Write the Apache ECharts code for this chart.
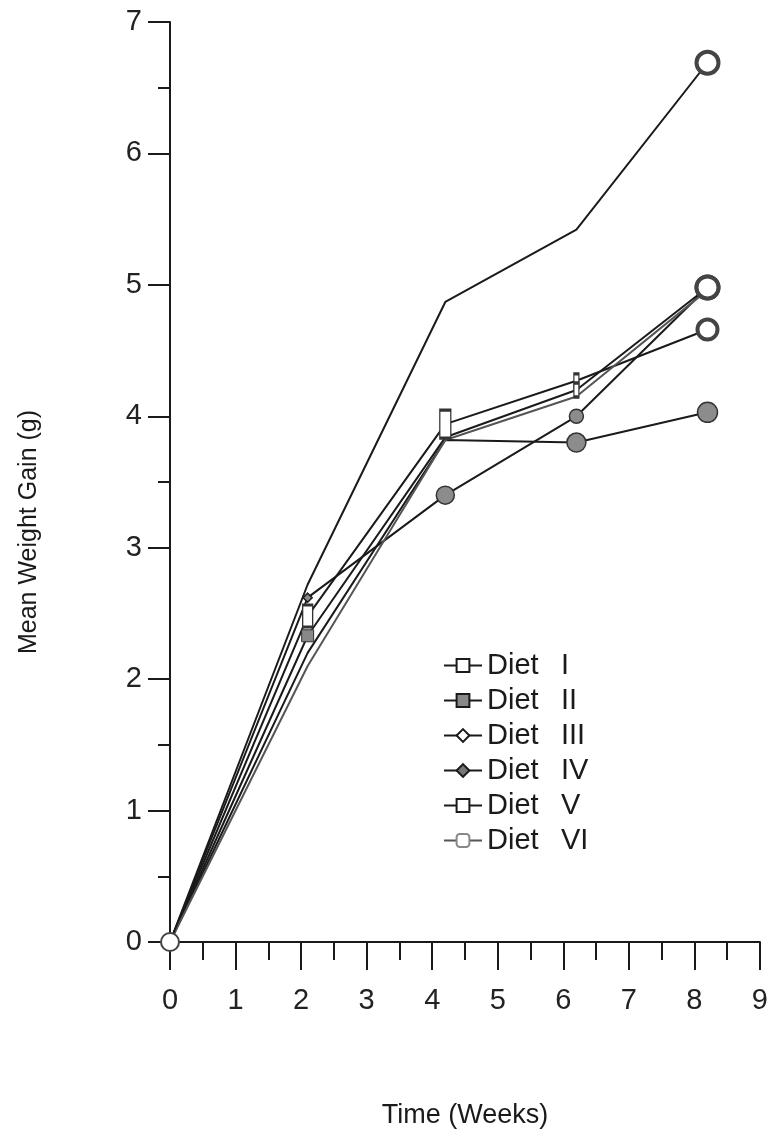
<!DOCTYPE html>
<html>
<head>
<meta charset="utf-8">
<script src="https://cdn.jsdelivr.net/npm/echarts@6/dist/echarts.min.js"></script>
<style>
html, body { margin: 0; padding: 0; background: #fff; }
#chart { width: 771px; height: 1138px; }
</style>
</head>
<body>
<div id="chart"></div>
<script>
// weeks at which the fish were weighed
var weeks = [0, 2.1, 4.2, 6.2, 8.2];

var dietNames = ['Diet I', 'Diet II', 'Diet III', 'Diet IV', 'Diet V', 'Diet VI'];

// mean weight gain (g)
var dietI   = [0, 2.48, 3.94, 4.27, 4.66];
var dietII  = [0, 2.33, 3.84, 4.20, 4.98];
var dietIII = [0, 2.72, 4.87, 5.42, 6.69];
var dietIV  = [0, 2.62, 3.40, 4.00, 4.98];
var dietV   = [0, 2.20, 3.82, 3.80, 4.03];
var dietVI  = [0, 2.10, 3.82, 4.15, 4.96];

var values = [dietI, dietII, dietIII, dietIV, dietV, dietVI];

// y axis: labelled ticks and the few short half-unit ticks seen on the original
var yMajorTicks = [0, 1, 2, 3, 4, 5, 6, 7];
var yMinorTicks = [0.5, 1.5, 3.5, 6.5];

var font = 'Liberation Sans, Arial, sans-serif';
var ink = '#1a1a1a';

// legend symbol for each diet
var legendSymbols = ['emptyRect', 'rect', 'emptyDiamond', 'diamond', 'emptyRect', 'emptyRoundRect'];
var legendColors = [ink, '#888', ink, '#777', ink, '#888'];
var lineColors = [ink, ink, ink, ink, ink, '#555'];

// which points carry a visible marker (series -> point index -> style)
var openC = function (s, bw) { return { symbol: 'circle', symbolSize: s, itemStyle: { color: '#fff', borderColor: '#444', borderWidth: bw || 4 } }; };
var fillC = function (s) { return { symbol: 'circle', symbolSize: s, itemStyle: { color: '#8c8c8c', borderColor: '#333', borderWidth: 1.5 } }; };
var openR = function (w, h) { return { symbol: 'rect', symbolSize: [w, h], itemStyle: { color: '#fff', borderColor: '#333', borderWidth: 2 } }; };
var marks = [
  { 1: openR(10, 22), 2: openR(11, 28), 3: openR(5, 14), 4: openC(20) },
  { 1: { symbol: 'rect', symbolSize: 12, itemStyle: { color: '#888', borderColor: '#333', borderWidth: 1 } }, 3: openR(5, 14), 4: openC(22) },
  { 0: openC(18, 2), 4: openC(22) },
  { 1: { symbol: 'diamond', symbolSize: 9, itemStyle: { color: '#888' } }, 2: fillC(18), 3: fillC(14), 4: openC(22) },
  { 3: fillC(19), 4: fillC(20) },
  {}
];

var series = dietNames.map(function (name, k) {
  var data = weeks.map(function (w, i) {
    var item = { value: [w, values[k][i]] };
    var m = marks[k][i];
    if (m) {
      item.symbol = m.symbol;
      item.symbolSize = m.symbolSize;
      item.itemStyle = m.itemStyle;
    }
    return item;
  });
  return {
    name: name,
    type: 'line',
    data: data,
    symbol: legendSymbols[k],
    symbolSize: 0,
    showSymbol: true,
    clip: false,
    z: k === 2 ? 5 : 3,
    lineStyle: { color: lineColors[k], width: 2 },
    itemStyle: { color: legendColors[k], borderColor: ink, borderWidth: 1.5 }
  };
});

var option = {
  backgroundColor: '#fff',
  animation: false,
  grid: { left: 170, right: 8, top: 22, bottom: 196 },
  legend: {
    orient: 'vertical',
    left: 438,
    top: 646,
    itemWidth: 38,
    itemHeight: 16,
    itemGap: 6,
    data: dietNames,
    formatter: function (name) {
      return '{d|Diet}{n|' + name.replace('Diet ', '') + '}';
    },
    textStyle: {
      color: ink,
      fontFamily: font,
      fontSize: 29,
      rich: {
        d: { width: 74, fontSize: 29, fontFamily: font, color: ink },
        n: { fontSize: 29, fontFamily: font, color: ink }
      }
    }
  },
  xAxis: {
    type: 'value',
    min: 0,
    max: 9,
    interval: 1,
    name: 'Time (Weeks)',
    nameLocation: 'center',
    nameGap: 160,
    nameTextStyle: { fontSize: 27, fontFamily: font, color: ink },
    axisLine: { lineStyle: { color: ink, width: 2 } },
    axisTick: { length: 28, lineStyle: { color: ink, width: 2 } },
    minorTick: { show: true, splitNumber: 2, length: 18, lineStyle: { color: ink, width: 2 } },
    splitLine: { show: false },
    axisLabel: { margin: 44, fontSize: 29, fontFamily: font, color: '#222' }
  },
  yAxis: [{
    type: 'value',
    min: 0,
    max: 7,
    interval: 1,
    name: 'Mean Weight Gain (g)',
    nameLocation: 'center',
    nameGap: 128,
    nameTextStyle: { fontSize: 25, fontFamily: font, color: ink, padding: [0, 100, 0, 0] },
    axisLine: { lineStyle: { color: ink, width: 2 } },
    axisTick: { length: 22, lineStyle: { color: ink, width: 2 } },
    splitLine: { show: false },
    axisLabel: { margin: 28, fontSize: 29, fontFamily: font, color: '#222' }
  }, {
    type: 'value',
    position: 'left',
    min: 0,
    max: 7,
    axisLine: { show: false },
    axisTick: { show: true, length: 12, customValues: yMinorTicks, lineStyle: { color: ink, width: 2 } },
    axisLabel: { show: true, customValues: yMinorTicks, formatter: function () { return ''; } },
    splitLine: { show: false }
  }],
  series: series
};

var myChart = echarts.init(document.getElementById('chart'));
myChart.setOption(option);
</script>
</body>
</html>
